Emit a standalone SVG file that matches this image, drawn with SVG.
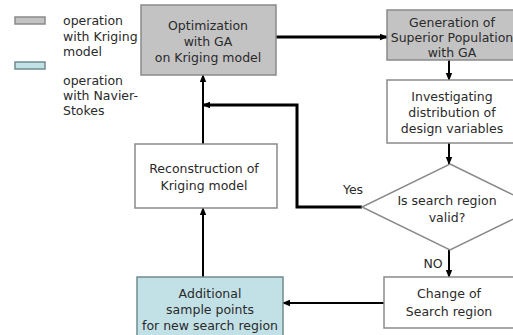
<svg xmlns="http://www.w3.org/2000/svg" width="513" height="335" viewBox="0 0 513 335">
<defs>
<marker id="ah" markerUnits="userSpaceOnUse" markerWidth="8" markerHeight="8" viewBox="0 0 8 8" refX="7" refY="4" orient="auto">
<path d="M0,0.8 L8,4 L0,7.2 Z" fill="#000"/>
</marker>
</defs>
<style>
text{font-family:"DejaVu Sans","Noto Sans",sans-serif;font-size:12.5px;fill:#2a2a2a;}
.c{text-anchor:middle;}
.gray{fill:#c3c3c3;stroke:#8a8a8a;stroke-width:1.5;}
.white{fill:#fff;stroke:#8a8a8a;stroke-width:1.5;}
.blue{fill:#c2e1e6;stroke:#6f8c90;stroke-width:1.5;}
.ln{fill:none;stroke:#000;stroke-width:2;}
.tk{fill:none;stroke:#000;stroke-width:3;}
</style>
<rect width="513" height="335" fill="#fff"/>
<g id="legend">
<rect class="gray" x="15" y="17" width="30" height="7"/>
<rect class="blue" x="15" y="62" width="30" height="7"/>
<text x="63" y="25">operation</text>
<text x="63" y="41">with Kriging</text>
<text x="63" y="56">model</text>
<text x="63" y="85">operation</text>
<text x="63" y="100">with Navier-</text>
<text x="63" y="115">Stokes</text>
</g>
<g id="connectors">
<line class="tk" x1="276" y1="37" x2="387" y2="37" marker-end="url(#ah)"/>
<line class="ln" x1="449" y1="60" x2="449" y2="80" marker-end="url(#ah)"/>
<line class="ln" x1="449" y1="143" x2="449" y2="164" marker-end="url(#ah)"/>
<line class="ln" x1="449" y1="250" x2="449" y2="277" marker-end="url(#ah)"/>
<line class="ln" x1="384" y1="303" x2="283" y2="303" marker-end="url(#ah)"/>
<line class="ln" x1="203" y1="277" x2="203" y2="208" marker-end="url(#ah)"/>
<line class="ln" x1="203" y1="144" x2="203" y2="75" marker-end="url(#ah)"/>
<path class="tk" d="M362,207 H297 V105 H203" marker-end="url(#ah)"/>
<text class="c" x="353" y="194">Yes</text>
<text class="c" x="433" y="268">NO</text>
</g>
<g id="opt">
<rect class="gray" x="141" y="5" width="135" height="70"/>
<text class="c" x="208" y="30">Optimization</text>
<text class="c" x="208" y="46">with GA</text>
<text class="c" x="208" y="62">on Kriging model</text>
</g>
<g id="gen">
<rect class="gray" x="387" y="10" width="128" height="50"/>
<text class="c" x="452" y="27">Generation of</text>
<text class="c" x="452" y="42">Superior Population</text>
<text class="c" x="452" y="57">with GA</text>
</g>
<g id="inv">
<rect class="white" x="387" y="80" width="128" height="63"/>
<text class="c" x="452" y="101">Investigating</text>
<text class="c" x="452" y="117">distribution of</text>
<text class="c" x="452" y="133">design variables</text>
</g>
<g id="dec">
<path class="white" d="M450,164 L538,207 L450,250 L362,207 Z"/>
<text class="c" x="447" y="205">Is search region</text>
<text class="c" x="447" y="222">valid?</text>
</g>
<g id="chg">
<rect class="white" x="384" y="277" width="131" height="51"/>
<text class="c" x="449" y="298">Change of</text>
<text class="c" x="449" y="316">Search region</text>
</g>
<g id="add">
<rect class="blue" x="137" y="277" width="146" height="62"/>
<text class="c" x="210" y="298">Additional</text>
<text class="c" x="210" y="314">sample points</text>
<text class="c" x="210" y="330">for new search region</text>
</g>
<g id="rec">
<rect class="white" x="135" y="144" width="142" height="64"/>
<text class="c" x="204" y="173">Reconstruction of</text>
<text class="c" x="204" y="190">Kriging model</text>
</g>
</svg>
